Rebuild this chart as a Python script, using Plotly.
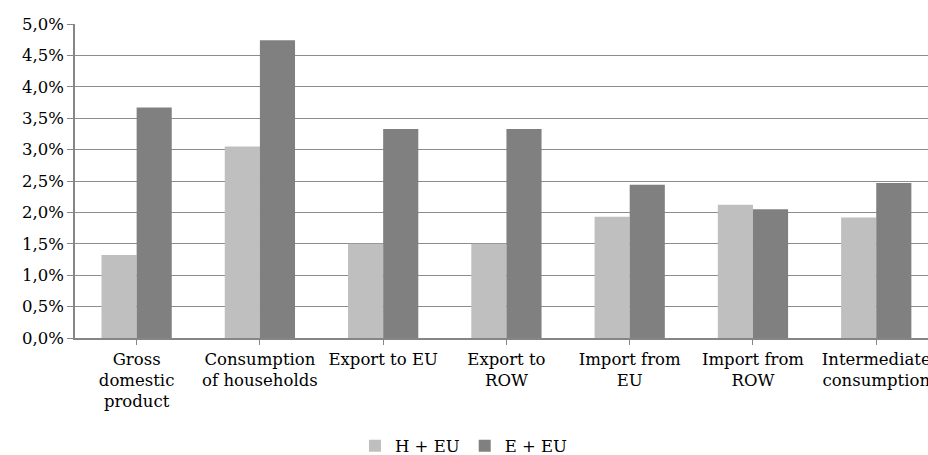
import plotly.graph_objects as go

categories = ["Gross<br>domestic<br>product", "Consumption<br>of households", "Export to EU",
              "Export to<br>ROW", "Import from<br>EU", "Import from<br>ROW", "Intermediate<br>consumption"]
h_eu = [0.0132, 0.0305, 0.0150, 0.0150, 0.0193, 0.0212, 0.0192]
e_eu = [0.0367, 0.0474, 0.0333, 0.0333, 0.0244, 0.0205, 0.0247]
series_names = ["H + EU", "E + EU"]
colors = ["#BFBFBF", "#808080"]

fig = go.Figure()
for name, vals, col in zip(series_names, [h_eu, e_eu], colors):
    fig.add_trace(go.Bar(x=list(range(len(categories))), y=vals, name=name,
                         marker=dict(color=col, line=dict(width=0))))

font = dict(family="DejaVu Serif", size=16.5, color="#000000")
fig.update_layout(
    width=928, height=455,
    margin=dict(l=75, r=0, t=24, b=117, autoexpand=False),
    paper_bgcolor="white", plot_bgcolor="white",
    barmode="group", bargap=0.43, bargroupgap=0,
    font=font,
    showlegend=True,
    legend=dict(orientation="h", x=0.456, xanchor="center", y=-0.344, yanchor="middle",
                font=font, itemwidth=30, traceorder="normal"),
    separators=",.",
)
fig.update_xaxes(
    tickmode="array", tickvals=list(range(len(categories))), ticktext=categories,
    range=[-0.5, 6.42], showgrid=False, showline=True, linecolor="#868686", linewidth=1.5,
    ticks="outside", tickson="boundaries", ticklen=5, tickcolor="#868686", tickwidth=1,
    tickangle=0, automargin=False, tickfont=font, ticklabeloverflow="allow",
)
fig.update_yaxes(
    range=[0, 0.05], dtick=0.005, tickformat=".1%",
    showgrid=True, gridcolor="#8C8C8C", gridwidth=1.3,
    showline=True, linecolor="#868686", linewidth=1.5,
    ticks="outside", ticklen=6, tickcolor="#868686",
    zeroline=False, automargin=False, tickfont=font,
)
fig.write_html("out.html", config={"displayModeBar": False},
               post_script="document.body.style.margin='0';document.body.style.padding='0';document.documentElement.style.overflow='hidden';")
